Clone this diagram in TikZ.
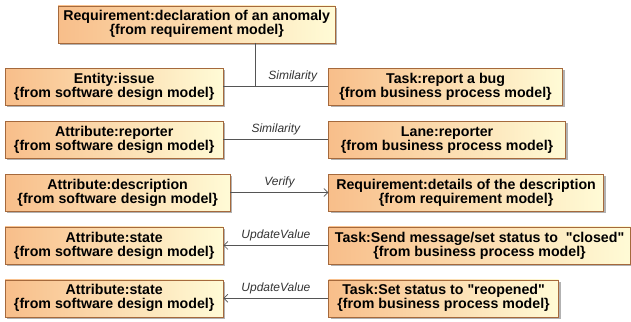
\documentclass[tikz,border=0pt]{standalone}
\usepackage{fontspec}
\setmainfont{Liberation Sans}
\usetikzlibrary{positioning, shadows, arrows.meta}
\definecolor{peach}{RGB}{248,190,138}
\definecolor{cream}{RGB}{255,251,214}
\definecolor{brd}{RGB}{165,105,60}
\definecolor{linegray}{RGB}{85,85,85}
\tikzset{
	node distance=15.5pt and 105pt,
	every text node part/.style= {
		align=center
	},
	model/.style= {
		rectangle,
		draw=brd,
		left color=peach,
		right color=cream,
		font=\bfseries\fontsize{14.2}{14}\selectfont,
		minimum height=37pt,
		inner xsep=2pt,
		inner ysep=0pt,
		drop shadow={shadow xshift=2pt, shadow yshift=-2pt, fill=black, opacity=.3}
	},
	link/.style= {
		draw=linegray,
		line width=0.7pt
	},
	tag/.style= {
		above=1pt,
		font=\itshape\fontsize{12}{12}\selectfont,
		text=black!80
	}
}

\begin{document}
\begin{tikzpicture}[x=1pt, y=1pt, >={Straight Barb[length=4pt, width=8pt]}]

	\useasboundingbox (0,0) rectangle (631,-321);

	\node (issue)[model, minimum width=218pt, anchor=north west] at (5,-68) {Entity:issue\\\{from software design model\}};
	\node (anomaly)[model, minimum width=277pt, above=25pt of issue.north west, anchor=south west, xshift=53pt] {Requirement:declaration of an anomaly\\\{from requirement model\}};
	\node (reporter)[model, minimum width=218pt, below=of issue.south west, anchor=north west] {Attribute:reporter\\\{from software design model\}};
	\node (descr)[model, minimum width=225pt, below=of reporter.south west, anchor=north west] {Attribute:description\\\{from software design model\}};
	\node (state1)[model, minimum width=218pt, below=of descr.south west, anchor=north west] {Attribute:state\\\{from software design model\}};
	\node (state2)[model, minimum width=218pt, below=of state1.south west, anchor=north west] {Attribute:state\\\{from software design model\}};

	\node (bug)[model, minimum width=234pt, right=of issue] {Task:report a bug\\\{from business process model\}};
	\node (lane)[model, minimum width=237pt, right=of reporter] {Lane:reporter\\\{from business process model\}};
	\node (details)[model, minimum width=275pt, right=98pt of descr] {Requirement:details of the description\\\{from requirement model\}};
	\node (closed)[model, minimum width=302pt, right=of state1] {Task:Send message/set status to \ \textquotedbl closed\textquotedbl\\\{from business process model\}};
	\node (reopen)[model, minimum width=230pt, right=of state2] {Task:Set status to \textquotedbl reopened\textquotedbl\\\{from business process model\}};

	\coordinate (sim) at ([xshift=32pt]issue.east);
	\draw[link] (issue) -- node[tag, pos=0.66]{Similarity} (bug);
	\draw[link] (anomaly.south -| sim) -- (sim);
	\draw[link] (reporter) -- node[tag, midway]{Similarity} (lane);
	\draw[link, ->] (descr) -- node[tag, midway]{Verify} (details);
	\draw[link, ->] (closed) -- node[tag, midway]{UpdateValue} (state1);
	\draw[link, ->] (reopen) -- node[tag, midway]{UpdateValue} (state2);

\end{tikzpicture}
\end{document}
